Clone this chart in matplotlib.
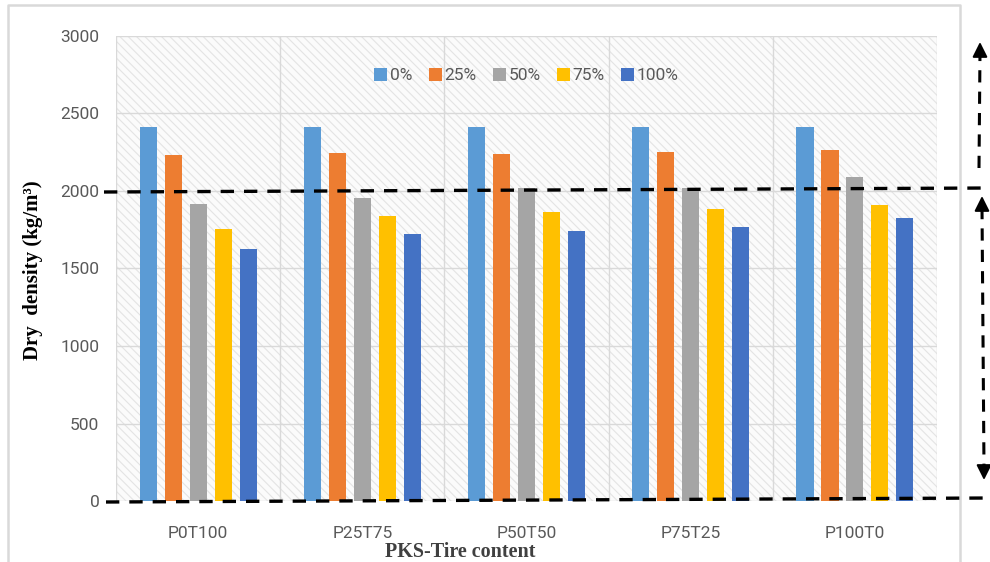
import matplotlib.pyplot as plt
from matplotlib.lines import Line2D
from matplotlib.patches import Rectangle, FancyArrowPatch
import numpy as np

categories = ["P0T100", "P25T75", "P50T50", "P75T25", "P100T0"]
series_names = ["0%", "25%", "50%", "75%", "100%"]
colors = ["#5b9bd5", "#ed7d31", "#a5a5a5", "#ffc000", "#4472c4"]
dens_0 = [2413, 2413, 2413, 2413, 2413]
dens_25 = [2232, 2245, 2240, 2252, 2265]
dens_50 = [1916, 1955, 2019, 2019, 2090]
dens_75 = [1755, 1839, 1865, 1884, 1910]
dens_100 = [1626, 1723, 1742, 1768, 1826]
all_series = [dens_0, dens_25, dens_50, dens_75, dens_100]

fig = plt.figure(figsize=(9.9, 5.62), dpi=100)
ax = fig.add_axes([0.1172, 0.1085, 0.8293, 0.8275])

# hatched background
plt.rcParams['hatch.color'] = '#e4e4e4'
plt.rcParams['hatch.linewidth'] = 0.8
ax.add_patch(Rectangle((0, 0), 1, 1, transform=ax.transAxes, facecolor='#fbfbfb',
                       edgecolor='#e4e4e4', hatch='\\\\\\\\', linewidth=0, zorder=0))

x = np.arange(len(categories))
step = 0.152
width = 0.104
for i, (name, vals) in enumerate(zip(series_names, all_series)):
    ax.bar(x + (i - 2) * step, vals, width=width, color=colors[i], label=name, zorder=3)

ax.set_xlim(-0.5, 4.5)
ax.set_ylim(0, 3000)
ax.set_yticks(range(0, 3001, 500))
ax.set_xticks(x)
ax.set_xticklabels(categories)
for v in range(0, 3001, 500):
    ax.axhline(v, color='#d9d9d9', lw=1, zorder=1)
for b in np.arange(-0.5, 4.6, 1):
    ax.axvline(b, color='#d9d9d9', lw=1, zorder=1)
for s in ax.spines.values():
    s.set_visible(False)
ax.tick_params(length=0, labelsize=12.5, colors='#595959', pad=12)
ax.tick_params(axis='x', pad=18)
for lab in ax.get_xticklabels() + ax.get_yticklabels():
    lab.set_family('Roboto')

leg = ax.legend(loc='upper center', bbox_to_anchor=(0.5, 0.965), ncol=5, frameon=False,
                handlelength=0.75, handleheight=0.75, handletextpad=0.15, columnspacing=0.95,
                prop={'family': 'Roboto', 'size': 12.5})
for t in leg.get_texts():
    t.set_color('#595959')

fig.text(0.033, 0.52, "Dry  density (kg/m³)", rotation=90, ha='center', va='center',
         family='Liberation Serif', weight='bold', fontsize=15, color='black')
fig.text(0.4645, 0.018, "PKS-Tire content", ha='center', va='center',
         family='Liberation Serif', weight='bold', fontsize=14.5, color='#404040')

# outer chart frame
fig.add_artist(Line2D([8 / 990, 8 / 990, 960 / 990, 960 / 990], [0, 1 - 5 / 562, 1 - 5 / 562, 0],
                      color='#d9d9d9', lw=1.8))


def fx(px):
    return px / 990


def fy(py):
    return 1 - py / 562


dash = (0, (4, 3))
# horizontal dashed lines
fig.add_artist(Line2D([fx(104), fx(990)], [fy(192), fy(188)], color='black', lw=2.4,
                      linestyle=dash))
fig.add_artist(Line2D([fx(106), fx(990)], [fy(502), fy(498)], color='black', lw=2.4,
                      linestyle=dash))

# vertical dashed shafts
fig.add_artist(Line2D([fx(979), fx(980)], [fy(168), fy(52)], color='black', lw=2.2,
                      linestyle=dash))
fig.add_artist(Line2D([fx(982), fx(984)], [fy(207), fy(468)], color='black', lw=2.2,
                      linestyle=dash))


def head(x0, y0, x1, y1):
    fig.patches.append(FancyArrowPatch((fx(x0), fy(y0)), (fx(x1), fy(y1)),
                                       transform=fig.transFigure, figure=fig,
                                       arrowstyle='-|>,head_length=0.6,head_width=0.3',
                                       color='black', lw=1.5, mutation_scale=15,
                                       shrinkA=0, shrinkB=0))


head(980, 56, 980, 42)
head(982, 211, 982, 196)
head(984, 465, 984, 480)

fig.savefig("out.png", dpi=100)
